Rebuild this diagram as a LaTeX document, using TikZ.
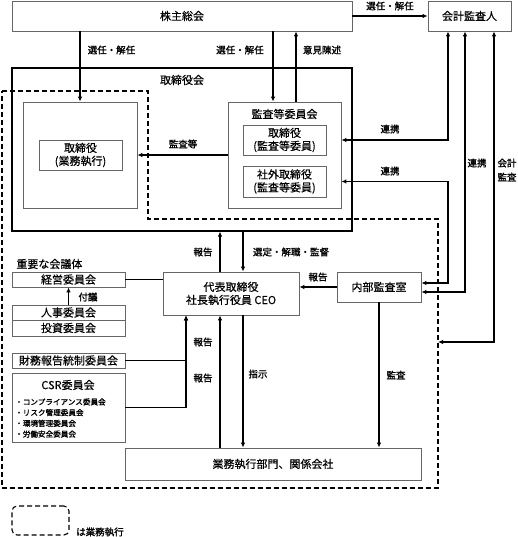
\documentclass[tikz,border=0pt]{standalone}
\usepackage{fontspec}
\setmainfont{Noto Sans CJK JP}[FakeBold=0.5]
\newfontfamily\lblfont{Noto Sans CJK JP}[FakeBold=1.4]
\usetikzlibrary{arrows.meta}

\begin{document}
\begin{tikzpicture}[x=1pt, y=-1pt,
    box/.style={rectangle, draw=black!60, line width=0.8pt, inner sep=0pt, align=center, font=\fontsize{11}{13}\selectfont},
    board/.style={rectangle, draw=black, line width=1.1pt, inner sep=0pt},
    arrow/.style={-{Latex[length=5pt,width=4.5pt]}, line width=1.2pt},
    biarrow/.style={{Latex[length=5pt,width=4.5pt]}-{Latex[length=5pt,width=4.5pt]}, line width=1.2pt},
    link/.style={line width=1.2pt},
    lbl/.style={font=\lblfont\fontsize{9.5}{11}\selectfont, inner sep=1pt},
    exec/.style={draw=black, line width=1.1pt, dash pattern=on 5pt off 3pt}
]
\useasboundingbox (0,0) rectangle (517,537);

% Shareholders and accounting auditor
\node[box, minimum width=340, minimum height=30] (agm) at (182,16) {株主総会};
\node[box, minimum width=83, minimum height=30] (auditor) at (469.5,16) {会計監査人};

% Board of directors
\node[board, minimum width=340, minimum height=163] (board) at (182,149.5) {};
\node[box, draw=none] (boardlbl) at (182,80) {取締役会};

% Business execution area (dashed)
\draw[exec] (2,91) -- (148,91) -- (148,219) -- (438,219) -- (438,488) -- (2,488) -- cycle;
\coordinate (execedge) at (438,342);

% Executive directors
\node[box, minimum width=114, minimum height=106] (execbox) at (80,155) {};
\node[box, minimum width=83, minimum height=30] (execdir) at (80.5,155) {取締役\\(業務執行)};

% Audit and supervisory committee
\node[box, minimum width=113, minimum height=106] (acbox) at (284.5,155) {};
\node[box, draw=none] (aclbl) at (284.5,114) {監査等委員会};
\node[box, minimum width=83, minimum height=30] (acdir) at (284.5,140) {取締役\\(監査等委員)};
\node[box, minimum width=83, minimum height=31] (acout) at (284.5,181.5) {社外取締役\\(監査等委員)};

% CEO and internal audit
\node[box, minimum width=136, minimum height=43] (ceo) at (231,293.5) {代表取締役\\社長執行役員 CEO};
\node[box, minimum width=84, minimum height=30] (iad) at (379,287) {内部監査室};

% Important meeting bodies
\node[box, draw=none, anchor=west] (mtglbl) at (16,264) {重要な会議体};
\node[box, minimum width=113, minimum height=15] (mgmt) at (68.5,279.5) {経営委員会};
\node[box, minimum width=113, minimum height=15] (hr) at (68.5,312.5) {人事委員会};
\node[box, minimum width=113, minimum height=16] (invest) at (68.5,328) {投資委員会};

% Other committees
\node[box, minimum width=113, minimum height=15] (fin) at (68.5,360.5) {財務報告統制委員会};
\node[box, minimum width=113, minimum height=69] (csr) at (68.5,407.5) {};
\node[box, draw=none] (csrlbl) at (68,385) {CSR委員会};
\node[anchor=west, align=left, inner sep=0pt, font=\lblfont\fontsize{7.6}{10.7}\selectfont] (csritems) at (15,418)
    {・コンプライアンス委員会\\・リスク管理委員会\\・環境管理委員会\\・労働安全委員会};

% Business divisions
\node[box, minimum width=296, minimum height=32] (ops) at (273,464) {業務執行部門、関係会社};

% Legend
\node[exec, rounded corners=5pt, minimum width=57, minimum height=29, inner sep=0pt] (legend) at (40.5,520.5) {};
\node[lbl, anchor=west] (legendlbl) at (75,532) {は業務執行};

% Helper coordinates
\coordinate (acin) at ([xshift=-11.5]acbox.north);
\coordinate (acup) at ([xshift=11.5]acbox.north);
\coordinate (ceoup) at ([xshift=-11]ceo.north);
\coordinate (ceodown) at ([xshift=12]ceo.north);
\coordinate (rep) at ([xshift=-45]ceo.south);
\coordinate (opsup) at ([xshift=-11]ceo.south);
\coordinate (opsdown) at ([xshift=12]ceo.south);
\coordinate (lx1) at ([xshift=-21.5]auditor.south);
\coordinate (lx2) at ([xshift=-4.5]auditor.south);
\coordinate (lx3) at ([xshift=24.5]auditor.south);
\coordinate (iadin1) at ([yshift=4]iad.east);
\coordinate (iadin2) at ([yshift=-5]iad.east);

% Arrows
\draw[arrow] (agm.east) -- (auditor.west);
\draw[arrow] (execbox.north |- agm.south) -- (execbox.north);
\draw[arrow] (acin |- agm.south) -- (acin);
\draw[arrow] (acup) -- (acup |- agm.south);
\draw[arrow] (acbox.west) -- (execbox.east);
\draw[arrow] (ceoup) -- (ceoup |- board.south);
\draw[arrow] (ceodown |- board.south) -- (ceodown);
\draw[arrow] (iad.west) -- (iad.west -| ceo.east);
\draw[link] (mgmt.east) -- (mgmt.east -| ceo.west);
\draw[arrow] (hr.north) -- (mgmt.south);
\draw[arrow] (fin.east) -| (rep);
\draw[arrow] (csr.east) -| (rep);
\draw[arrow] (opsup |- ops.north) -- (opsup);
\draw[arrow] (opsdown) -- (opsdown |- ops.north);
\draw[arrow] (iad.south) -- (iad.south |- ops.north);

% Links to accounting auditor
\draw[biarrow] (lx1) |- (acdir -| acbox.east);
\draw[biarrow] (acout -| acbox.east) -| (lx1 |- iadin1) -- (iadin1);
\draw[biarrow] (lx2) |- (iadin2);
\draw[biarrow] (lx3) |- (execedge);

% Labels
\node[lbl] at (390,6) {選任・解任};
\node[lbl] at (111.5,50) {選任・解任};
\node[lbl] at (240,50) {選任・解任};
\node[lbl] at (322,50) {意見陳述};
\node[lbl] at (183,144) {監査等};
\node[lbl] at (390,129) {連携};
\node[lbl] at (390,171) {連携};
\node[lbl] at (477,163) {連携};
\node[lbl, align=center, font=\lblfont\fontsize{9.5}{14}\selectfont] at (507,170) {会計\\監査};
\node[lbl] at (203,252) {報告};
\node[lbl] at (291,252) {選定・解職・監督};
\node[lbl] at (318,277) {報告};
\node[lbl] at (88,297) {付議};
\node[lbl] at (203,342) {報告};
\node[lbl] at (203,378) {報告};
\node[lbl] at (258,374) {指示};
\node[lbl] at (396,375) {監査};

\end{tikzpicture}
\end{document}
